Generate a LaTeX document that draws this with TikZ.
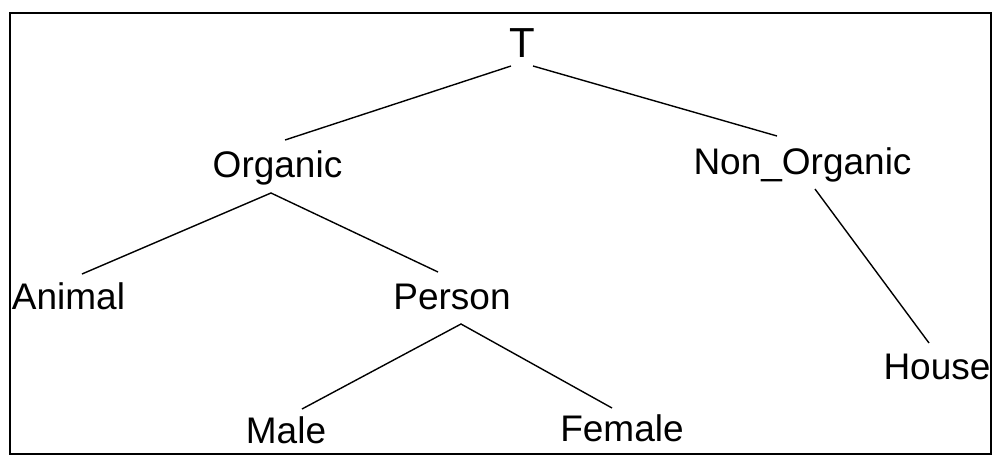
\documentclass[tikz,border=0pt]{standalone}
\usepackage{fontspec}
\setmainfont{Liberation Sans}
\begin{document}
\begin{tikzpicture}[x=1pt,y=-1pt,
  lbl/.style={anchor=base,inner sep=0pt,font=\fontsize{37}{41}\selectfont},
  toplbl/.style={anchor=base,inner sep=0pt,font=\fontsize{42}{46}\selectfont},
  edge/.style={line width=1.4pt,black}]
\useasboundingbox (0,0) rectangle (994,456);
\draw[line width=2pt] (10,13) rectangle (991,454);
% nodes
\node[toplbl] (T) at (522,57) {T};
\node[lbl] (Organic) at (277.5,177) {Organic};
\node[lbl] (NonOrganic) at (802.5,174) {Non\_Organic};
\node[lbl] (Animal) at (68.5,309) {Animal};
\node[lbl] (Person) at (452,309) {Person};
\node[lbl] (House) at (937,379) {House};
\node[lbl] (Male) at (286,443) {Male};
\node[lbl] (Female) at (622,441) {Female};
% connector ends
\coordinate (T-l) at (511,66);
\coordinate (T-r) at (533,66);
\coordinate (Organic-in) at (285,140);
\coordinate (NonOrganic-in) at (777,136);
\coordinate (Organic-out) at (271,193);
\coordinate (Animal-in) at (82,274);
\coordinate (Person-in) at (438,272);
\coordinate (Person-out) at (461,324);
\coordinate (Male-in) at (302,409);
\coordinate (Female-in) at (612,408);
\coordinate (NonOrganic-out) at (815,189);
\coordinate (House-in) at (929,343);
% connectors
\draw[edge] (T-l) -- (Organic-in);
\draw[edge] (T-r) -- (NonOrganic-in);
\draw[edge] (Animal-in) -- (Organic-out) -- (Person-in);
\draw[edge] (Male-in) -- (Person-out) -- (Female-in);
\draw[edge] (NonOrganic-out) -- (House-in);
\end{tikzpicture}
\end{document}
